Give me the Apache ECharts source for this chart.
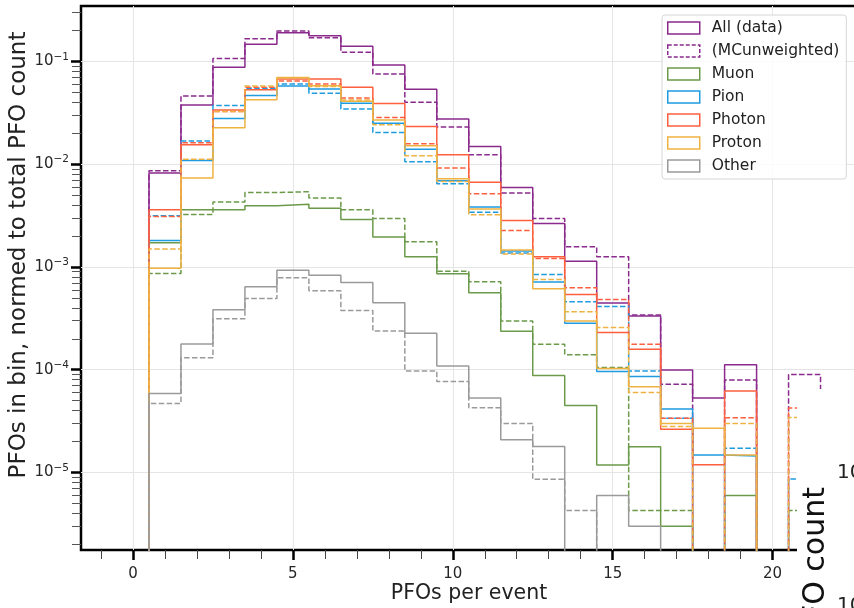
<!DOCTYPE html>
<html>
<head>
<meta charset="utf-8">
<script src="https://cdn.jsdelivr.net/npm/echarts@6/dist/echarts.min.js"></script>
<style>
  html, body { margin: 0; padding: 0; background: #fff; }
  #chart { width: 854px; height: 608px; }
</style>
</head>
<body>
<div id="chart"></div>
<script>
// bin centres: PFOs per event (bins are 1 wide)
const binCenters = [1, 2, 3, 4, 5, 6, 7, 8, 9, 10, 11, 12, 13, 14, 15, 16, 17, 18, 19, 20, 21];

// solid = data, dashed = MC unweighted (0 = empty bin)
const allData   = [8.2e-3, 0.0377, 0.088, 0.147, 0.19, 0.178, 0.141, 0.0925, 0.0537, 0.0275, 0.0149, 5.95e-3, 2.65e-3, 1.14e-3, 4.47e-4, 3.33e-4, 9.96e-5, 5.32e-5, 1.12e-4, 0, 0];
const allMC     = [8.65e-3, 0.0462, 0.107, 0.166, 0.198, 0.170, 0.123, 0.0756, 0.0402, 0.0230, 0.0124, 5.25e-3, 2.96e-3, 1.57e-3, 1.26e-3, 3.4e-4, 7.23e-5, 0, 7.96e-5, 0, 8.97e-5];
const muonData  = [1.72e-3, 3.61e-3, 3.61e-3, 3.95e-3, 4.07e-3, 3.72e-3, 2.89e-3, 1.96e-3, 1.26e-3, 8.59e-4, 5.62e-4, 2.37e-4, 8.79e-5, 4.49e-5, 1.18e-5, 1.78e-5, 3.0e-6, 0, 5.96e-6, 0, 0];
const muonMC    = [8.65e-4, 3.24e-3, 4.3e-3, 5.3e-3, 5.4e-3, 4.69e-3, 3.61e-3, 2.96e-3, 1.76e-3, 9.1e-4, 7.18e-4, 2.98e-4, 1.77e-4, 1.40e-4, 1.05e-4, 4.26e-6, 4.26e-6, 0, 0, 0, 4.26e-6];
const pionData  = [1.81e-3, 0.0109, 0.0279, 0.0466, 0.0578, 0.054, 0.0393, 0.0251, 0.0140, 6.9e-3, 3.84e-3, 1.43e-3, 7.13e-4, 2.83e-4, 9.6e-5, 8.59e-5, 4.14e-5, 1.48e-5, 1.45e-5, 0, 0];
const pionMC    = [3.16e-3, 0.0168, 0.0373, 0.055, 0.0605, 0.049, 0.0344, 0.0204, 0.0106, 6.47e-3, 3.40e-3, 1.37e-3, 8.45e-4, 4.59e-4, 4.13e-4, 9.73e-5, 3.38e-5, 0, 1.72e-5, 0, 8.65e-6];
const photonData = [3.61e-3, 0.0155, 0.0338, 0.053, 0.0676, 0.0676, 0.0562, 0.0389, 0.0233, 0.0124, 6.68e-3, 2.84e-3, 1.26e-3, 5.41e-4, 2.30e-4, 1.58e-4, 2.64e-5, 1.19e-5, 6.22e-5, 0, 0];
const photonMC  = [3.1e-3, 0.0162, 0.0326, 0.0562, 0.0647, 0.0605, 0.044, 0.0285, 0.0158, 9.18e-3, 5.15e-3, 2.27e-3, 1.21e-3, 6.28e-4, 4.83e-4, 1.77e-4, 3.38e-5, 0, 3.41e-5, 0, 4.23e-5];
const protonData = [9.7e-4, 7.34e-3, 0.0226, 0.0425, 0.0697, 0.058, 0.041, 0.027, 0.0151, 7.23e-3, 3.67e-3, 1.46e-3, 6.14e-4, 2.98e-4, 1.03e-4, 6.81e-5, 3.0e-5, 2.69e-5, 1.48e-5, 0, 0];
const protonMC  = [1.5e-3, 0.0112, 0.0326, 0.0578, 0.069, 0.057, 0.0422, 0.0242, 0.0121, 6.8e-3, 3.23e-3, 1.34e-3, 7.57e-4, 3.67e-4, 2.57e-4, 6.0e-5, 2.8e-5, 0, 3.0e-5, 0, 3.43e-5];
const otherData = [5.87e-5, 1.78e-4, 3.84e-4, 6.41e-4, 9.31e-4, 8.32e-4, 7.07e-4, 4.49e-4, 2.26e-4, 1.09e-4, 5.32e-5, 2.08e-5, 1.79e-5, 0, 5.96e-6, 3.0e-6, 0, 0, 0, 0, 0];
const otherMC   = [4.7e-5, 1.31e-4, 3.14e-4, 4.94e-4, 7.86e-4, 5.88e-4, 3.78e-4, 2.38e-4, 9.73e-5, 7.67e-5, 4.26e-5, 3.0e-5, 8.59e-6, 4.26e-6, 0, 0, 0, 0, 0, 0, 0];

const xMajorTicks = [0, 5, 10, 15, 20];
const xMinorTicks = [-1, 1, 2, 3, 4, 6, 7, 8, 9, 11, 12, 13, 14, 16, 17, 18, 19, 21, 22];
const yMajorTicks = [1e-5, 1e-4, 1e-3, 1e-2, 1e-1];
const yMinorTicks = [2e-6, 3e-6, 4e-6, 5e-6, 6e-6, 7e-6, 8e-6, 9e-6,
  2e-5, 3e-5, 4e-5, 5e-5, 6e-5, 7e-5, 8e-5, 9e-5,
  2e-4, 3e-4, 4e-4, 5e-4, 6e-4, 7e-4, 8e-4, 9e-4,
  2e-3, 3e-3, 4e-3, 5e-3, 6e-3, 7e-3, 8e-3, 9e-3,
  2e-2, 3e-2, 4e-2, 5e-2, 6e-2, 7e-2, 8e-2, 9e-2, 2e-1, 3e-1];

const FONT = "DejaVu Sans";
const FLOOR = 1e-9; // empty bins drop below the axis and get clipped

// histogram outline (step) from bin values
function steps(vals) {
  const pts = [[binCenters[0] - 0.5, FLOOR]];
  vals.forEach(function (v, i) {
    const y = v > 0 ? v : FLOOR;
    pts.push([binCenters[i] - 0.5, y], [binCenters[i] + 0.5, y]);
  });
  pts.push([binCenters[binCenters.length - 1] + 0.5, FLOOR]);
  return pts;
}

function hist(name, vals, color, dashed) {
  return {
    name: name,
    type: "line",
    data: steps(vals),
    symbol: "none",
    showSymbol: false,
    clip: true,
    silent: true,
    lineStyle: { color: color, width: 1.5, type: dashed ? [5.5, 2.4] : "solid" },
    itemStyle: { color: color },
  };
}

const C_ALL = "#8b2a8d", C_MU = "#6b9a4a", C_PI = "#1f9be0", C_PH = "#fd5f3f", C_PR = "#efb343", C_OT = "#9a9a9a";

const series = [
  hist("All (data)", allData, C_ALL, false),
  hist("(MCunweighted)", allMC, C_ALL, true),
  hist("Muon", muonData, C_MU, false),
  hist("Muon MC", muonMC, C_MU, true),
  hist("Pion", pionData, C_PI, false),
  hist("Pion MC", pionMC, C_PI, true),
  hist("Photon", photonData, C_PH, false),
  hist("Photon MC", photonMC, C_PH, true),
  hist("Proton", protonData, C_PR, false),
  hist("Proton MC", protonMC, C_PR, true),
  hist("Other", otherData, C_OT, false),
  hist("Other MC", otherMC, C_OT, true),
];

function legendItem(name, color, dashed) {
  return {
    name: name,
    icon: "rect",
    itemStyle: { color: "rgba(0,0,0,0)", borderColor: color, borderWidth: 1.5, borderType: dashed ? [4, 2] : "solid" },
  };
}

const chart = echarts.init(document.getElementById("chart"), null, { renderer: "canvas" });
chart.setOption({
  animation: false,
  backgroundColor: "#fff",
  grid: {
    left: 81, top: 6, width: 776, height: 544,
    outerBoundsMode: "none", containLabel: false,
    show: true, borderColor: "#000", borderWidth: 2.5, backgroundColor: "rgba(0,0,0,0)",
  },
  legend: {
    data: [
      legendItem("All (data)", C_ALL, false),
      legendItem("(MCunweighted)", C_ALL, true),
      legendItem("Muon", C_MU, false),
      legendItem("Pion", C_PI, false),
      legendItem("Photon", C_PH, false),
      legendItem("Proton", C_PR, false),
      legendItem("Other", C_OT, false),
    ],
    orient: "vertical",
    left: 662,
    top: 15,
    itemWidth: 32,
    itemHeight: 12,
    itemGap: 7,
    padding: [5, 7, 5, 5],
    backgroundColor: "rgba(255,255,255,0.85)",
    borderColor: "#d6d6d6",
    borderWidth: 1,
    borderRadius: 3,
    selectedMode: false,
    textStyle: { fontFamily: FONT, fontSize: 15.5, color: "#222", lineHeight: 16, padding: [0, 0, 0, 7] },
  },
  xAxis: [
    {
      type: "value",
      min: -1.626,
      max: 22.64,
      position: "bottom",
      name: "PFOs per event",
      nameLocation: "middle",
      nameGap: 33,
      nameMoveOverlap: false,
      nameTextStyle: { fontFamily: FONT, fontSize: 20.5, color: "#222" },
      axisLine: { show: false, onZero: false },
      axisTick: { customValues: xMajorTicks, length: 10, lineStyle: { color: "#000", width: 2.5 } },
      axisLabel: { customValues: xMajorTicks, margin: 17, fontFamily: FONT, fontSize: 15, color: "#262626" },
      splitLine: { show: true, lineStyle: { color: "#e5e5e5", width: 1 } },
    },
    {
      type: "value",
      min: -1.626,
      max: 22.64,
      position: "bottom",
      axisLine: { show: false, onZero: false },
      axisTick: { customValues: xMinorTicks, length: 9, lineStyle: { color: "#444", width: 1 } },
      axisLabel: { show: false },
      splitLine: { show: false },
    },
  ],
  yAxis: [
    {
      type: "log",
      min: 1.76e-6,
      max: 0.3467,
      position: "left",
      name: "PFOs in bin, normed to total PFO count",
      nameLocation: "middle",
      nameGap: 50,
      nameMoveOverlap: false,
      nameTextStyle: { fontFamily: FONT, fontSize: 23, color: "#222", padding: [0, 0, 0, 46] },
      axisLine: { show: false, onZero: false },
      axisTick: { customValues: yMajorTicks, length: 10, lineStyle: { color: "#000", width: 2.5 } },
      axisLabel: {
        customValues: yMajorTicks,
        margin: 12,
        formatter: function (v) {
          const e = Math.round(Math.log10(v));
          return "{b|10}{s|\u2212" + (-e) + "}";
        },
        rich: {
          b: { fontFamily: FONT, fontSize: 15, color: "#262626", lineHeight: 20 },
          s: { fontFamily: FONT, fontSize: 10.5, color: "#262626", verticalAlign: "top", lineHeight: 12 },
        },
      },
      splitLine: { show: true, lineStyle: { color: "#e5e5e5", width: 1 } },
    },
    {
      type: "log",
      min: 1.76e-6,
      max: 0.3467,
      position: "left",
      axisLine: { show: false, onZero: false },
      axisTick: { customValues: yMinorTicks, length: 9, lineStyle: { color: "#555", width: 1 } },
      axisLabel: { show: false },
      splitLine: { show: false },
    },
  ],
  graphic: [
    // neighbouring panel overlapping the right edge of the figure
    { type: "rect", z: 100, shape: { x: 797, y: 389, width: 60, height: 220 }, style: { fill: "#fff" } },
    { type: "text", z: 101, x: 816, y: 487, rotation: Math.PI / 2,
      style: { text: "PFO count", fill: "#111", font: "30px 'DejaVu Sans'", textAlign: "right", textVerticalAlign: "middle" } },
    { type: "text", z: 101, x: 837, y: 473, style: { text: "10", fill: "#222", font: "20px 'DejaVu Sans'", textVerticalAlign: "middle" } },
    { type: "text", z: 101, x: 837, y: 606, style: { text: "10", fill: "#222", font: "20px 'DejaVu Sans'", textVerticalAlign: "middle" } },
  ],
  series: series,
});
</script>
</body>
</html>
